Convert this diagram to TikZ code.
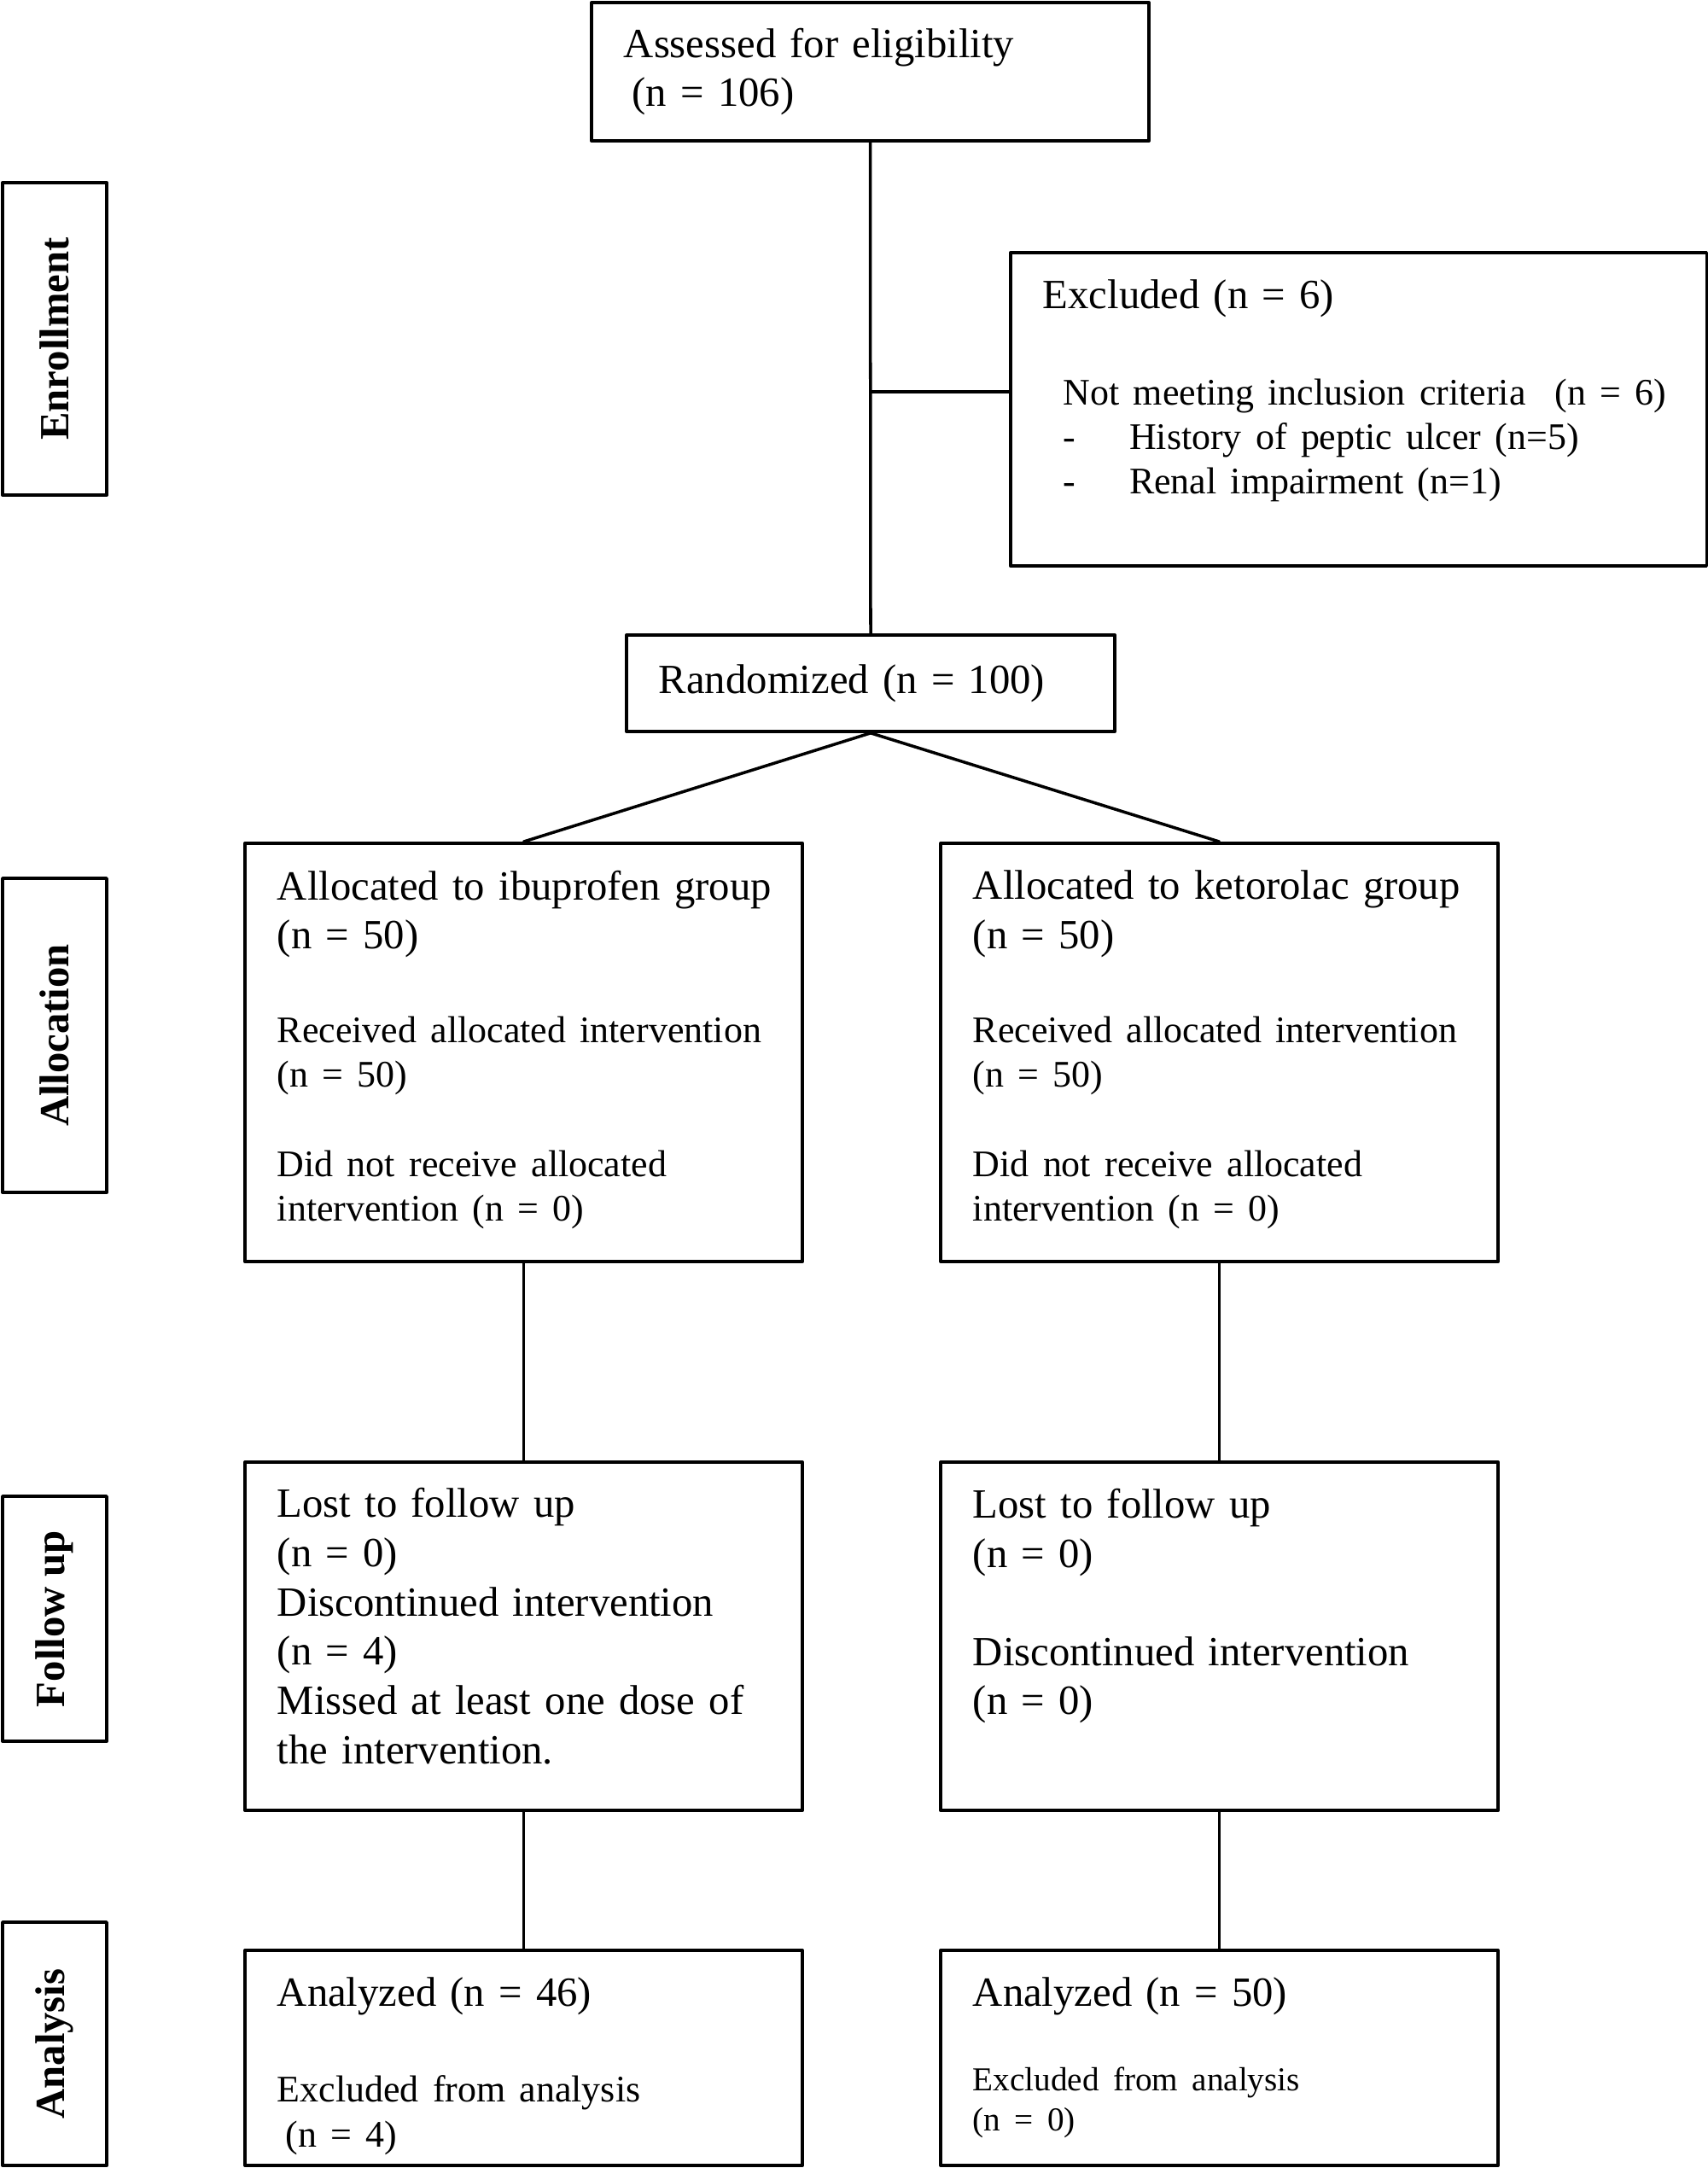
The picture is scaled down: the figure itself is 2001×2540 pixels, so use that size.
\documentclass[tikz,border=0pt]{standalone}
\usepackage{fontspec}
\setmainfont{Liberation Serif}
\newcommand{\mainf}{\fontsize{13.85pt}{16.4pt}\selectfont}
\newcommand{\subf}{\fontsize{12.5pt}{14.8pt}\selectfont}
\newcommand{\smallf}{\fontsize{11.15pt}{13.3pt}\selectfont}
\begin{document}
\begin{tikzpicture}[x=0.01cm, y=-0.01cm, line cap=round, line join=round, line width=1pt, font=\mainf]
	\useasboundingbox (0,0) rectangle (2001,2540);
	\tikzset{box/.style={draw, align=left, inner xsep=0.38cm, inner ysep=0pt, text width=5.77cm},
		stage/.style={draw, rotate=90, font=\mainf\bfseries, inner sep=0pt, minimum height=1.22cm}}
	% phase labels
	\foreach \n/\y/\h/\t in {enroll/397/3.66/Enrollment, alloclab/1213/3.68/Allocation, followlab/1896.5/2.87/Follow up, anallab/2394.5/2.85/Analysis}{\node[stage, minimum width=\h cm] (\n) at (64,\y) {\t};}
	% enrollment
	\node[box, minimum height=1.62cm] (assess) at (1019.5,84) {Assessed for eligibility\\\hspace*{2.8pt}(n = 106)};
	\node[box, text width=7.39cm, minimum height=3.67cm] (excl) at (1591.5,479.5) {Excluded (n = 6)\\[17.3pt]\subf\hspace*{6.8pt}\mbox{Not meeting inclusion criteria\hspace{5.1pt} (n = 6)}\\\hspace*{6.8pt}\makebox[22pt][l]{-}History of peptic ulcer (n=5)\\\hspace*{6.8pt}\makebox[22pt][l]{-}Renal impairment (n=1)\\\mbox{}\par};
	\node[box, text width=4.96cm, minimum height=1.13cm] (rand) at (1020,800.5) {Randomized (n = 100)};
	% allocation
	\node[box, minimum height=4.9cm] (alloc1) at (613.5,1233) {\mbox{Allocated to ibuprofen group}\\(n = 50)\\[16.4pt]\subf\mbox{Received allocated intervention}\\(n = 50)\\[15pt]Did not receive allocated\\intervention (n = 0)\rule[-4.5pt]{0pt}{4.5pt}\par};
	\node[box, minimum height=4.9cm] (alloc2) at (1428.5,1233) {\mbox{Allocated to ketorolac group}\\(n = 50)\\[16.4pt]\subf\mbox{Received allocated intervention}\\(n = 50)\\[15pt]Did not receive allocated\\intervention (n = 0)\rule[-4.5pt]{0pt}{4.5pt}\par};
	% follow up
	\node[box, minimum height=4.08cm] (follow1) at (613.5,1917) {Lost to follow up\\(n = 0)\\Discontinued intervention\\(n = 4)\\\mbox{Missed at least one dose of}\\the intervention.\rule[-7pt]{0pt}{7pt}};
	\node[box, minimum height=4.08cm] (follow2) at (1428.5,1917) {Lost to follow up\\(n = 0)\\[16.2pt]Discontinued intervention\\(n = 0)\rule[-23pt]{0pt}{23pt}};
	% analysis
	\node[box, minimum height=2.52cm] (anal1) at (613.5,2411) {\rule{0pt}{15.2pt}Analyzed (n = 46)\\[17pt]\subf Excluded from analysis\\[0.4pt]\hspace*{2.8pt}(n = 4)\par};
	\node[box, minimum height=2.52cm] (anal2) at (1428.5,2411) {Analyzed (n = 50)\\[14.8pt]\smallf Excluded from analysis\\(n = 0)\par};
	% connectors
	\coordinate (split) at (1020,459);
	\draw (assess.south) -- (rand.north);
	\draw (split) -- (split -| excl.west);
	\draw (rand.south) -- (alloc1.north);
	\draw (rand.south) -- (alloc2.north);
	\draw (alloc1) -- (follow1);
	\draw (alloc2) -- (follow2);
	\draw (follow1) -- (anal1);
	\draw (follow2) -- (anal2);
\end{tikzpicture}
\end{document}
